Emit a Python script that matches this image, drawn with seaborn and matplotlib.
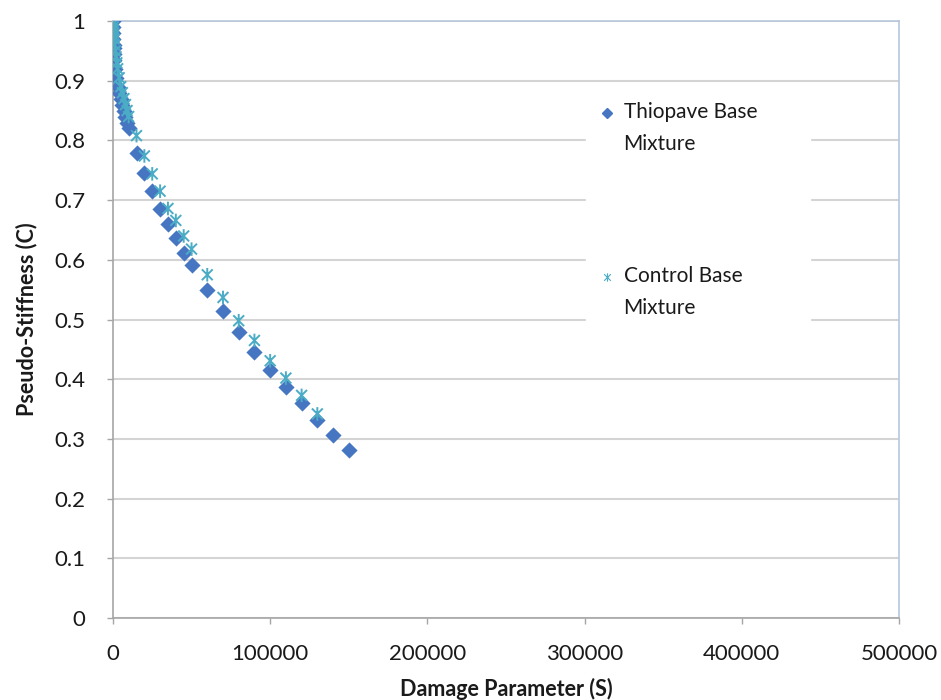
import matplotlib
matplotlib.use("Agg")
import matplotlib.pyplot as plt
from matplotlib.path import Path
from matplotlib.lines import Line2D
from matplotlib.legend_handler import HandlerLine2D
import seaborn as sns
import pandas as pd

# Thiopave base mixture: damage parameter S vs pseudo-stiffness C
thio_s = [0, 100, 200, 300, 400, 500, 700, 1000, 1500, 2000, 3000, 4000, 5000, 6000,
          7000, 8000, 9000, 10000, 15000, 20000, 25000, 30000, 35000, 40000, 45000,
          50000, 60000, 70000, 80000, 90000, 100000, 110000, 120000, 130000, 140000, 150000]
thio_c = [1.0, 0.99, 0.98, 0.97, 0.96, 0.955, 0.945, 0.935, 0.92, 0.905, 0.89, 0.88,
          0.87, 0.86, 0.85, 0.84, 0.83, 0.82, 0.779, 0.746, 0.715, 0.685, 0.66, 0.637,
          0.612, 0.591, 0.55, 0.514, 0.479, 0.446, 0.416, 0.387, 0.36, 0.331, 0.306, 0.281]

# Control base mixture
ctrl_s = [0, 100, 200, 300, 400, 500, 700, 1000, 1500, 2000, 2500, 3000, 4000, 5000,
          6000, 7000, 8000, 9000, 10000, 15000, 20000, 25000, 30000, 35000, 40000,
          45000, 50000, 60000, 70000, 80000, 90000, 100000, 110000, 120000, 130000]
ctrl_c = [1.0, 0.995, 0.99, 0.985, 0.98, 0.975, 0.97, 0.96, 0.95, 0.94, 0.93, 0.92,
          0.905, 0.89, 0.88, 0.87, 0.86, 0.85, 0.84, 0.808, 0.774, 0.744, 0.715, 0.686,
          0.666, 0.64, 0.618, 0.575, 0.537, 0.498, 0.465, 0.431, 0.402, 0.373, 0.342]

series_names = ["Thiopave Base\nMixture", "Control Base\nMixture"]
x_ticks = [0, 100000, 200000, 300000, 400000, 500000]
y_ticks = [0, 0.1, 0.2, 0.3, 0.4, 0.5, 0.6, 0.7, 0.8, 0.9, 1]
y_tick_labels = ["0", "0.1", "0.2", "0.3", "0.4", "0.5", "0.6", "0.7", "0.8", "0.9", "1"]

thio = pd.DataFrame({"S": thio_s, "C": thio_c})
ctrl = pd.DataFrame({"S": ctrl_s, "C": ctrl_c})

sns.set_theme(style="white")
plt.rcParams["font.family"] = ["Lato", "DejaVu Sans"]

BLUE = "#4676C2"
CYAN = "#4BACC6"
TEXT = "#1a1a1a"

# asterisk marker: an X with a vertical bar
star = Path([(0, -1), (0, 1), (-0.8, -0.8), (0.8, 0.8), (-0.8, 0.8), (0.8, -0.8)],
            [Path.MOVETO, Path.LINETO, Path.MOVETO, Path.LINETO, Path.MOVETO, Path.LINETO])


class FirstLineHandler(HandlerLine2D):
    """Legend handler that puts the marker beside the first line of a wrapped label."""

    def create_artists(self, legend, orig_handle, xdescent, ydescent, width,
                       height, fontsize, trans):
        artists = super().create_artists(legend, orig_handle, xdescent, ydescent,
                                         width, height, fontsize, trans)
        for a in artists:
            a.set_ydata([y + 11.5 for y in a.get_ydata()])
        return artists


fig = plt.figure(figsize=(9.41, 7.0), dpi=100)
ax = fig.add_axes([0.12, 0.117, 0.8355, 0.853])

ax.set_xlim(0, 500000)
ax.set_ylim(0, 1)
ax.set_yticks(y_ticks)
ax.set_xticks(x_ticks)
ax.set_yticklabels(y_tick_labels)
ax.set_xticklabels([str(v) for v in x_ticks])

ax.grid(axis="y", color="#d4d4d4", linewidth=1.5)
ax.grid(axis="x", visible=False)
ax.set_axisbelow(True)

sns.scatterplot(data=thio, x="S", y="C", marker="D", s=68, color=BLUE,
                edgecolor=BLUE, linewidth=0, ax=ax, zorder=3, legend=False)
sns.scatterplot(data=ctrl, x="S", y="C", marker=star, s=95, color=CYAN,
                facecolor="none", edgecolor=CYAN, linewidth=1.4, ax=ax, zorder=4,
                legend=False)

for side in ["top", "right"]:
    ax.spines[side].set_color("#b8c7dc")
    ax.spines[side].set_linewidth(1.2)
for side in ["left", "bottom"]:
    ax.spines[side].set_color("#a6a6a6")
    ax.spines[side].set_linewidth(1.2)

ax.tick_params(axis="both", which="both", length=4, width=1, color="#a6a6a6",
               labelsize=16, labelcolor=TEXT)
ax.tick_params(axis="x", pad=15, bottom=True)
ax.tick_params(axis="y", pad=16, left=True)

ax.set_xlabel("Damage Parameter (S)", fontsize=15.5, fontweight="bold", labelpad=10,
              color=TEXT)
ax.set_ylabel("Pseudo-Stiffness (C)", fontsize=15.5, fontweight="bold", labelpad=12,
              color=TEXT)

handles = [
    Line2D([], [], linestyle="none", marker="D", markersize=5, color=BLUE),
    Line2D([], [], linestyle="none", marker=star, markersize=6, color=CYAN,
           markerfacecolor="none", markeredgewidth=0.8),
]
leg = ax.legend(handles, series_names, loc="upper left", mode="expand",
                bbox_to_anchor=(586 / 941, 1 - 92 / 700, 224 / 941, 0),
                bbox_transform=fig.transFigure,
                handler_map={Line2D: FirstLineHandler()},
                frameon=True, facecolor="white", edgecolor="white", framealpha=1,
                fontsize=15, labelspacing=5.35, handletextpad=0.3, handlelength=1.0,
                borderpad=0.5, borderaxespad=0)
for t in leg.get_texts():
    t.set_color(TEXT)
    t.set_linespacing(1.75)

fig.savefig("out.png", dpi=100)
